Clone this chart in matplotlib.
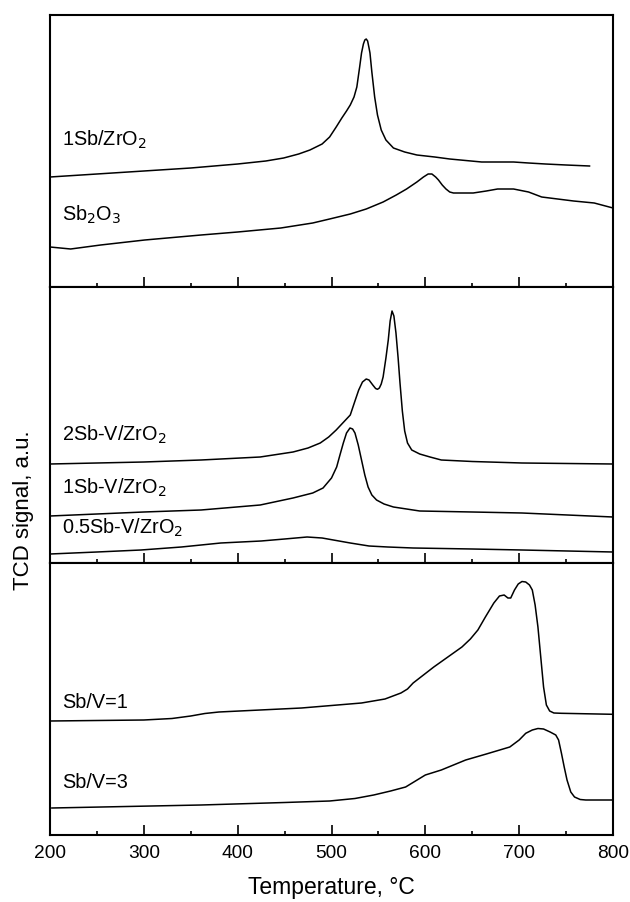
import matplotlib
matplotlib.use('Agg')
import matplotlib.pyplot as plt
from matplotlib.ticker import MultipleLocator

plt.rcParams['font.family'] = ['Liberation Sans', 'DejaVu Sans']

# --- top panel: 1Sb/ZrO2 and Sb2O3 (temperature in C, signal in a.u.) ---
t_1sb = [200, 300, 350, 400, 430, 449, 465, 477, 490, 498, 505, 511, 516, 520, 524, 527,
         530, 532, 534, 535.5, 537, 538.5, 540, 541, 543, 546, 549, 553, 558,
         566, 578, 591, 610, 626, 660, 694, 710, 728, 750, 775]
s_1sb = [110, 116, 119, 123, 126, 129, 133, 137, 143, 150, 160, 169, 176, 182, 190, 200,
         220, 234, 243, 247, 248, 246, 239, 234, 215, 190, 172, 157, 147,
         139, 135, 132, 130, 128, 125, 125, 124, 123, 122, 121]

t_sb2o3 = [200, 222, 254, 301, 361, 400, 446, 480, 498, 520, 537, 555, 569, 580, 591,
           598, 603, 607, 611, 614, 618, 622, 626, 630, 651, 665, 677, 694, 710,
           724, 758, 780, 800]
s_sb2o3 = [40, 38, 42, 47, 52, 55, 59, 64, 68, 73, 78, 85, 92, 98, 105,
           110, 113, 113, 110, 107, 102, 98, 95, 94, 94, 96, 98, 98, 95,
           90, 86, 84, 79]

# --- middle panel: xSb-V/ZrO2 ---
t_2sbv = [200, 300, 361, 424, 459, 475, 488, 497, 505, 512, 520, 525, 529, 533, 537,
          540, 544, 547, 549, 551, 553, 555, 558, 560.5, 562.5, 564.5, 566.5,
          568.7, 571, 573, 575.5, 578, 581, 585.5, 594, 605, 617, 650, 703, 800]
s_2sbv = [99, 101, 103, 106, 111, 115, 120, 126, 133, 140, 148, 162, 173, 181, 184,
          183, 178, 174.5, 173.7, 175, 179, 186, 205, 223, 242, 252, 247,
          230, 205, 180, 152, 132, 120, 113, 109, 106, 103, 101.5, 100, 99]

t_1sbv = [200, 300, 361, 424, 459, 480, 491, 500, 505.5, 509, 512.6, 516, 519.7,
          522.5, 525, 528.5, 532, 535.5, 539, 543, 548, 556, 566, 580, 594, 650,
          703, 800]
s_1sbv = [47, 51, 53, 58, 65, 70, 75, 85, 96, 108, 120, 130, 135,
          134, 130, 118, 103, 88, 76, 68, 63, 59, 56, 54, 52, 51,
          50, 46]

t_05sbv = [200, 250, 297, 340, 382, 425, 450, 474, 490, 502, 520, 540, 560, 587, 650, 703, 800]
s_05sbv = [9, 11, 13, 16, 20, 22, 24, 26, 25, 23, 20, 17, 16, 15, 14, 13, 11]

# --- bottom panel: Sb/V ratios ---
t_r1 = [200, 300, 330, 350, 365, 380, 468, 532, 557, 574, 581, 587, 598, 609, 624,
        639, 648, 656, 664, 673, 679, 684, 688, 691, 695, 699, 703, 707, 711,
        714, 717, 720, 723, 726, 729, 732.5, 737, 745, 800]
s_r1 = [114, 115, 116.5, 119, 121.5, 123, 127, 132, 136, 142, 146, 152, 160, 168, 178,
        188, 196, 205, 218, 232, 239, 240, 237, 237, 245, 251, 253.5, 253, 250,
        245, 230, 208, 178, 148, 130, 124, 122, 121.7, 120.7]

t_r3 = [202, 361, 450, 498, 525, 545, 563, 579, 600, 617, 643, 665, 690, 700, 707,
        714, 720, 726, 733, 739, 742, 745, 748, 751, 755, 759, 765, 771, 800]
s_r3 = [27, 30, 32.5, 34, 36.5, 40, 44, 48, 60, 65, 75, 81, 88, 95, 101.7,
        105, 106.5, 106, 103, 100, 95, 82, 68, 55, 43, 38, 35.5, 35, 35]

panels = [
    [(t_1sb, s_1sb, '1Sb/ZrO$_2$', 147), (t_sb2o3, s_sb2o3, 'Sb$_2$O$_3$', 72)],
    [(t_2sbv, s_2sbv, '2Sb-V/ZrO$_2$', 128), (t_1sbv, s_1sbv, '1Sb-V/ZrO$_2$', 75),
     (t_05sbv, s_05sbv, '0.5Sb-V/ZrO$_2$', 35)],
    [(t_r1, s_r1, 'Sb/V=1', 132), (t_r3, s_r3, 'Sb/V=3', 53)],
]
heights = [272, 276, 272]

fig = plt.figure(figsize=(6.30, 9.02), dpi=100)
gs = fig.add_gridspec(3, 1, height_ratios=heights, hspace=0,
                      left=50/630, right=613/630, top=1-15/902, bottom=1-835/902)

for i, curves in enumerate(panels):
    ax = fig.add_subplot(gs[i])
    for t, s, lab, ly in curves:
        ax.plot(t, s, color='black', lw=1.1)
        ax.text(212.5, ly, lab, fontsize=14.3, va='center', ha='left')
    ax.set_xlim(200, 800)
    ax.set_ylim(0, heights[i])
    ax.set_yticks([])
    ax.xaxis.set_major_locator(MultipleLocator(100))
    ax.xaxis.set_minor_locator(MultipleLocator(50))
    ax.tick_params(axis='x', which='major', direction='in', length=7, width=1.2,
                   top=False, labelsize=13.8, pad=7)
    ax.tick_params(axis='x', which='minor', direction='in', length=3, width=1.2, top=False)
    for sp in ax.spines.values():
        sp.set_linewidth(1.5)
    if i < 2:
        ax.tick_params(axis='x', labelbottom=False)
    else:
        ax.set_xlabel('Temperature, °C', fontsize=16.5, labelpad=10)

fig.text(24/630, 1-510/902, 'TCD signal, a.u.', rotation=90, fontsize=16,
         ha='center', va='center')

fig.savefig('out.png', dpi=100)
